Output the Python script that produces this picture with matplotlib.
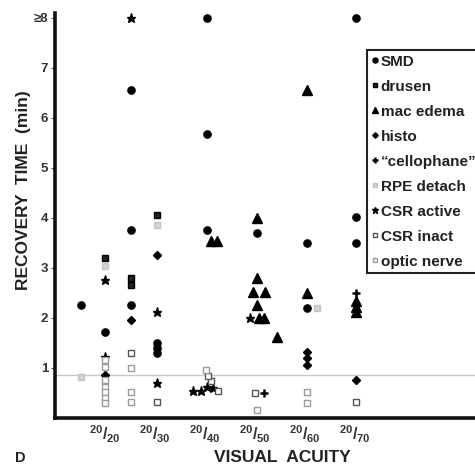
import matplotlib
matplotlib.use("Agg")
import matplotlib.pyplot as plt
from matplotlib.lines import Line2D

plt.rcParams['font.family'] = ['Liberation Sans', 'DejaVu Sans']
plt.rcParams['mathtext.fontset'] = 'custom'
plt.rcParams['mathtext.rm'] = 'Liberation Sans:bold'
plt.rcParams['mathtext.it'] = 'Liberation Sans:bold'
plt.rcParams['mathtext.bf'] = 'Liberation Sans:bold'

# ---- data (x = visual acuity position, 1 = 20/20 ... 6 = 20/70; y = recovery time, min; 8 = ">=8")
acuity_ticks = [1, 2, 3, 4, 5, 6]
acuity_labels = [r'$^{20}/_{20}$', r'$^{20}/_{30}$', r'$^{20}/_{40}$',
                 r'$^{20}/_{50}$', r'$^{20}/_{60}$', r'$^{20}/_{70}$']
ytick_vals = [1, 2, 3, 4, 5, 6, 7, 8]
ytick_labels = ['1', '2', '3', '4', '5', '6', '7', '≥8']
normal_line = 0.86

smd_x = [0.52, 1.0, 1.52, 1.52, 1.52, 2.04, 2.04, 2.04, 3.04, 3.04, 3.04, 4.04, 5.04, 5.04, 6.02, 6.02, 6.02]
smd_y = [2.26, 1.72, 6.56, 3.76, 2.26, 1.50, 1.40, 1.30, 8.0, 5.68, 3.76, 3.70, 3.50, 2.20, 8.0, 4.02, 3.50]

drusen_x = [1.0, 1.52, 1.52, 2.04]
drusen_y = [3.20, 2.80, 2.66, 4.06]

edema_x = [3.12, 3.24, 4.04, 4.04, 3.96, 4.2, 4.04, 4.08, 4.18, 4.44, 5.04, 5.04, 6.02, 6.02, 6.02]
edema_y = [3.54, 3.54, 4.00, 2.80, 2.52, 2.52, 2.26, 2.00, 2.00, 1.62, 6.56, 2.50, 2.34, 2.22, 2.12]

histo_x = [1.52, 2.04, 1.0, 5.04, 5.04, 5.04, 6.02]
histo_y = [1.96, 3.26, 0.86, 1.32, 1.20, 1.06, 0.76]

cello_x = [4.18, 6.02]
cello_y = [0.50, 2.50]

rpe_x = [0.52, 2.04, 5.24, 1.0]
rpe_y = [0.82, 3.86, 2.20, 3.05]

csr_act_x = [1.52, 1.0, 1.0, 2.04, 2.04, 2.76, 2.92, 3.04, 3.16, 3.9]
csr_act_y = [8.0, 2.76, 1.22, 2.12, 0.70, 0.55, 0.55, 0.62, 0.60, 2.00]

csr_inact_x = [1.52, 2.04, 4.0, 6.02, 3.12, 3.26, 3.06]
csr_inact_y = [1.30, 0.32, 0.50, 0.32, 0.74, 0.55, 0.84]

optic_x = [1.0, 1.0, 1.0, 1.0, 1.0, 1.0, 1.0, 1.52, 1.52, 1.52, 3.02, 4.04, 5.04, 5.04]
optic_y = [1.16, 1.02, 0.76, 0.62, 0.52, 0.40, 0.30, 1.00, 0.52, 0.32, 0.96, 0.16, 0.52, 0.30]

legend_labels = ['SMD', 'drusen', 'mac edema', 'histo', '“cellophane”',
                 'RPE detach', 'CSR active', 'CSR inact', 'optic nerve']

# ---- figure
fig = plt.figure(figsize=(4.75, 4.67), dpi=100)
ax = fig.add_axes([55/475, 49/467, 420/475, 405/467])
ax.set_xlim(0, 8.4)
ax.set_ylim(0, 8.1)

ax.axhline(normal_line, color='#c8c8c8', lw=1.0, zorder=1)

styles = [
    (smd_x, smd_y, dict(marker='o', ms=5.2, mfc='black', mec='black')),
    (drusen_x, drusen_y, dict(marker='s', ms=4, mfc='#222222', mec='black')),
    (edema_x, edema_y, dict(marker='^', ms=6.5, mfc='black', mec='black')),
    (histo_x, histo_y, dict(marker='D', ms=4, mfc='black', mec='black')),
    (cello_x, cello_y, dict(marker='+', ms=6, mfc='black', mec='black', mew=1.8)),
    (rpe_x, rpe_y, dict(marker='s', ms=5, mfc='#d2d2d2', mec='#c4c4c4')),
    (csr_act_x, csr_act_y, dict(marker='*', ms=6.5, mfc='black', mec='black')),
    (csr_inact_x, csr_inact_y, dict(marker='s', ms=4.5, mfc='white', mec='#555555', mew=1.0)),
    (optic_x, optic_y, dict(marker='s', ms=4, mfc='white', mec='#9a9a9a', mew=1.0)),
]
handles = []
for (xs, ys, st), lab in zip(styles, legend_labels):
    ax.plot(xs, ys, ls='none', zorder=3, **st)
    handles.append(Line2D([], [], ls='none', **dict(st, ms=st['ms'] * 0.7)))

for s in ['top', 'right']:
    ax.spines[s].set_visible(False)
for s in ['left', 'bottom']:
    ax.spines[s].set_linewidth(2.6)
    ax.spines[s].set_color('#111111')

ax.set_yticks(ytick_vals)
ax.set_yticklabels(ytick_labels, fontsize=9.5, fontweight='bold', color='#333333')
ax.set_xticks(acuity_ticks)
ax.set_xticklabels(acuity_labels, fontsize=11.5, color='#333333')
ax.tick_params(axis='y', length=3, width=0.8, pad=2, colors='#555555', labelcolor='#333333')
ax.tick_params(axis='x', length=0, pad=4, labelcolor='#333333')

fig.text(24/475, 1 - 190/467, 'RECOVERY  TIME  (min)', rotation=90, ha='center', va='center',
         fontsize=12.5, fontweight='bold', color='#222222')
fig.text(282/475, 1 - 458/467, 'VISUAL  ACUITY', ha='center', va='center',
         fontsize=12.5, fontweight='bold', color='#222222')
fig.text(20/475, 1 - 458/467, 'D', ha='center', va='center',
         fontsize=10.5, fontweight='bold', color='#222222')

leg = ax.legend(handles, legend_labels, loc='upper left',
                bbox_to_anchor=(367/475, 1 - 50/467), bbox_transform=fig.transFigure,
                frameon=True, fancybox=False, framealpha=1, edgecolor='#222222',
                handlelength=0.4, handletextpad=0.2, borderpad=0.3, borderaxespad=0,
                labelspacing=0.72, prop=dict(size=11, weight='bold'))
leg.get_frame().set_linewidth(1.5)
for t in leg.get_texts():
    t.set_color('#222222')

fig.savefig('out.png', dpi=100, facecolor='white')
